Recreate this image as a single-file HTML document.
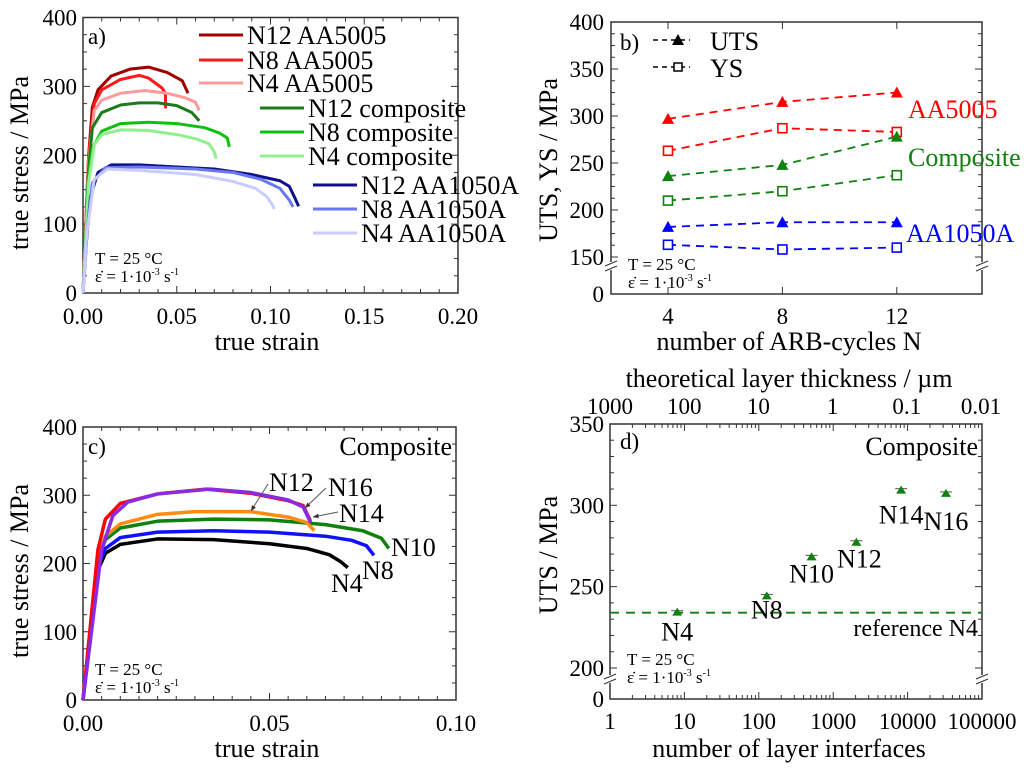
<!DOCTYPE html>
<html><head><meta charset="utf-8">
<style>
body{margin:0;background:#fff;}
svg{display:block;font-family:"Liberation Serif","Times New Roman",serif;}
svg text{font-family:"Liberation Serif","Times New Roman",serif;}
</style></head>
<body>
<svg id="fig" width="1024" height="774" viewBox="0 0 1024 774" xmlns="http://www.w3.org/2000/svg" font-family="Liberation Serif, serif"></svg>
<script>
// ---------- Panel a data ----------
const aNames = ["N12 AA5005","N8 AA5005","N4 AA5005","N12 composite","N8 composite","N4 composite","N12 AA1050A","N8 AA1050A","N4 AA1050A"];
const aColors = ["#a00000","#ff1a1a","#ff9a9a","#1c7a1c","#10c010","#90f090","#10108a","#6a78f0","#c8ccff"];
const aStrain = [
 [0,0.003,0.005,0.008,0.015,0.025,0.035,0.045,0.053,0.056],
 [0,0.003,0.006,0.01,0.02,0.03,0.035,0.042,0.044,0.044],
 [0,0.003,0.006,0.01,0.02,0.033,0.045,0.055,0.06,0.062],
 [0,0.003,0.005,0.01,0.02,0.03,0.04,0.05,0.058,0.062],
 [0,0.003,0.005,0.01,0.02,0.035,0.05,0.065,0.073,0.077,0.078],
 [0,0.003,0.006,0.01,0.02,0.035,0.05,0.06,0.067,0.07,0.071],
 [0,0.002,0.004,0.008,0.015,0.03,0.05,0.07,0.09,0.105,0.11,0.113,0.115],
 [0,0.002,0.005,0.012,0.03,0.06,0.08,0.095,0.105,0.11,0.112],
 [0,0.002,0.006,0.013,0.03,0.06,0.08,0.092,0.098,0.101,0.102]
];
const aStress = [
 [0,200,270,295,315,325,328,320,308,290],
 [0,200,275,295,310,316,312,298,290,268],
 [0,190,265,280,290,294,290,283,277,265],
 [0,180,240,262,273,276,276,272,262,250],
 [0,170,210,235,246,248,246,240,232,225,212],
 [0,160,215,230,237,236,230,224,217,205,195],
 [0,80,140,175,186,186,183,180,172,163,155,138,126],
 [0,85,160,182,183,180,175,165,152,135,125],
 [0,85,165,180,178,172,162,152,140,128,122]
];
// ---------- Panel b data ----------
const bCycles = [4,8,12];
const bUtsAA5005 = [297,315,325];
const bYsAA5005 = [263,287,283];
const bUtsComp = [236,248,278];
const bYsComp = [210,220,237];
const bUtsAA1050 = [182,187,187];
const bYsAA1050 = [163,158,160];
// ---------- Panel c data ----------
const cNames = ["N4","N8","N10","N14","N12","N16"];
const cColors = ["#000000","#1010ff","#108010","#ff8c10","#ff0000","#8a2be2"];
const cStrain = [
 [0,0.004,0.006,0.01,0.02,0.035,0.05,0.06,0.066,0.069,0.071],
 [0,0.004,0.006,0.01,0.02,0.035,0.05,0.065,0.072,0.076,0.078],
 [0,0.004,0.006,0.01,0.02,0.035,0.05,0.065,0.075,0.08,0.082],
 [0,0.004,0.006,0.01,0.02,0.03,0.045,0.055,0.06,0.062],
 [0,0.004,0.006,0.01,0.02,0.033,0.045,0.055,0.059,0.061],
 [0,0.005,0.008,0.012,0.02,0.034,0.045,0.055,0.059,0.061]
];
const cStress = [
 [0,190,215,228,236,235,229,222,213,203,194],
 [0,195,222,238,246,248,246,240,234,226,212],
 [0,205,235,252,262,265,264,257,248,237,222],
 [0,205,240,258,272,276,276,268,260,248],
 [0,220,265,288,302,309,303,292,285,262],
 [0,220,270,290,302,309,304,293,283,260]
];
// ---------- Panel d data ----------
const dLabels = ["N4","N8","N10","N12","N14","N16"];
const dInterfaces = [8,128,512,2048,8192,32768];
const dUts = [234,244,268,277,309,307];
const dReference = 234;
const dTopTicks = ["1000","100","10","1","0.1","0.01"];
const dBottomTicks = ["1","10","100","1000","10000","100000"];

const NS="http://www.w3.org/2000/svg";
const svg=document.getElementById('fig');
const FF='Liberation Serif, Times New Roman, serif';
function mk(tag,attrs,parent){const e=document.createElementNS(NS,tag);for(const k in attrs)e.setAttribute(k,attrs[k]);(parent||svg).appendChild(e);return e;}
function txt(s,x,y,size,anchor,fill,parent){const t=mk('text',{x:x,y:y,'font-size':size,'text-anchor':anchor||'start',fill:fill||'#000','font-family':FF},parent);t.textContent=s;return t;}
function group(name){const g=mk('g',{});return g;}
function cond(x,y,g){
 const t1=txt('T = 25 °C',x,y,17,'start','#000',g);
 
 
 const t2=mk('text',{x:x,y:y+18,'font-size':17,'font-family':FF},g);
 t2.innerHTML='ε̇ = 1·10<tspan dy="-7" font-size="10">-3</tspan><tspan dy="7"> s</tspan><tspan dy="-7" font-size="10">-1</tspan>';
 
 
}
function frame(g,x0,y0,x1,y1){const r=mk('rect',{x:x0,y:y0,width:x1-x0,height:y1-y0,fill:'none',stroke:'#333','stroke-width':1.5},g);}
function vtitle(g,s,x,y,size){const t=txt(s,x,y,size,'middle','#000',g);t.setAttribute('transform',`rotate(-90 ${x} ${y})`);return t;}
const TK=23, TT=26, LG=26;

// ===== Panel a =====
(function(){
 const g=group('panel-a');
 const X=v=>83+v/0.20*375, Y=v=>293-v/400*275.5;
 frame(g,83,17.5,458,293);
 for(let i=0;i<=20;i++){const x=X(i*0.01);const major=i%5==0;
  mk('line',{x1:x,x2:x,y1:293,y2:293-(major?7:4),stroke:'#333'},g);mk('line',{x1:x,x2:x,y1:17.5,y2:17.5+(major?7:4),stroke:'#333'},g);}
 for(let v=0;v<=400;v+=25){const y=Y(v);const major=v%100==0;
  mk('line',{x1:83,x2:83+(major?7:4),y1:y,y2:y,stroke:'#333'},g);mk('line',{x1:458,x2:458-(major?7:4),y1:y,y2:y,stroke:'#333'},g);}
 ["0.00","0.05","0.10","0.15","0.20"].forEach((s,i)=>{const t=txt(s,X(i*0.05),324,TK,'middle','#000',g);});
 [0,100,200,300,400].forEach(v=>{const t=txt(String(v),77,Y(v)+8,TK,'end','#000',g);});
 const xt=txt('true strain',267,350,TT,'middle','#000',g);
 const yt=vtitle(g,'true stress / MPa',28,163,TT);
 const lb=txt('a)',88,44,23,'start','#000',g);
 aNames.forEach((n,i)=>{
  const p=mk('polyline',{points:aStrain[i].map((s,j)=>X(s)+','+Y(aStress[i][j])).join(' '),fill:'none',stroke:aColors[i],'stroke-width':3,'stroke-linejoin':'round'},g);
  
  
 });
 const legPos=[[199,35],[199,60],[199,83],[260,108],[260,132],[260,156],[313,185],[313,209],[313,233]];
 aNames.forEach((n,i)=>{
  const [lx,ly]=legPos[i];
  const le=group('legend-entry');
  g.appendChild(le);
  mk('line',{x1:lx,x2:lx+44,y1:ly,y2:ly,stroke:aColors[i],'stroke-width':3},le);
  txt(n,lx+48,ly+9,LG,'start','#000',le);
 });
 cond(95,264,g);
})();

// ===== Panel b =====
(function(){
 const g=group('panel-b');
 const X=v=>668+(v-4)*28.6, Y=v=>257-(v-150)*0.94;
 frame(g,611,22,982,294);
 for(let v=150;v<=400;v+=12.5){const y=Y(v);const major=v%50==0;
  mk('line',{x1:611,x2:611+(major?7:4),y1:y,y2:y,stroke:'#333'},g);mk('line',{x1:982,x2:982-(major?7:4),y1:y,y2:y,stroke:'#333'},g);}
 bCycles.forEach(c=>{mk('line',{x1:X(c),x2:X(c),y1:294,y2:287,stroke:'#333'},g);mk('line',{x1:X(c),x2:X(c),y1:22,y2:29,stroke:'#333'},g);});
 [611,982].forEach(x=>{mk('rect',{x:x-6,y:262,width:12,height:8,fill:'#fff'},g);
  mk('line',{x1:x-6,x2:x+6,y1:266,y2:261,stroke:'#333'},g);mk('line',{x1:x-6,x2:x+6,y1:271,y2:266,stroke:'#333'},g);});
 [150,200,250,300,350,400].forEach(v=>{const t=txt(String(v),604,Y(v)+8,TK,'end','#000',g);});
 const z=txt('0',604,302,TK,'end','#000',g);
 bCycles.forEach(c=>{const t=txt(String(c),X(c),324,TK,'middle','#000',g);});
 const xt=txt('number of ARB-cycles N',789,350,TT,'middle','#000',g);
 const yt=vtitle(g,'UTS, YS / MPa',557,160,TT);
 const lb=txt('b)',620,50,23,'start','#000',g);
 const series=[[bUtsAA5005,'#ff0000','tri','uts-aa5005'],[bYsAA5005,'#ff0000','sq','ys-aa5005'],[bUtsComp,'#108010','tri','uts-composite'],[bYsComp,'#108010','sq','ys-composite'],[bUtsAA1050,'#0000ff','tri','uts-aa1050a'],[bYsAA1050,'#0000ff','sq','ys-aa1050a']];
 series.forEach(([vals,col,m,name])=>{
  const sg=group('series-'+name);g.appendChild(sg);
  mk('polyline',{points:vals.map((v,i)=>X(bCycles[i])+','+Y(v)).join(' '),fill:'none',stroke:col,'stroke-width':1.8,'stroke-dasharray':'8,6'},sg);
  vals.forEach((v,i)=>{const x=X(bCycles[i]),y=Y(v);let e;
   if(m=='tri')e=mk('polygon',{points:`${x-6},${y+5} ${x+6},${y+5} ${x},${y-6}`,fill:col},sg);
   else e=mk('rect',{x:x-4.5,y:y-4.5,width:9,height:9,fill:'#fff',stroke:col,'stroke-width':1.6},sg);
   
   });
 });
 const lg=group('legend');g.appendChild(lg);
 mk('line',{x1:653,x2:690,y1:40,y2:40,stroke:'#000','stroke-width':1.5,'stroke-dasharray':'5,4'},lg);
 mk('polygon',{points:'672,45 684,45 678,34',fill:'#000'},lg);
 txt('UTS',710,50,LG,'start','#000',lg);
 mk('line',{x1:653,x2:690,y1:67,y2:67,stroke:'#000','stroke-width':1.5,'stroke-dasharray':'5,4'},lg);
 mk('rect',{x:674,y:63,width:8,height:8,fill:'#fff',stroke:'#000','stroke-width':1.5},lg);
 txt('YS',710,77,LG,'start','#000',lg);
 const l1=txt('AA5005',908,118,LG,'start','#ff0000',g);
 const l2=txt('Composite',908,166,LG,'start','#108010',g);
 const l3=txt('AA1050A',906,242,LG,'start','#0000ff',g);
 cond(628,270,g);
})();

// ===== Panel c =====
(function(){
 const g=group('panel-c');
 const X=v=>83+v/0.10*373, Y=v=>700-v/400*273;
 frame(g,83,427,456,700);
 for(let i=0;i<=20;i++){const x=X(i*0.005);const major=i%10==0;
  mk('line',{x1:x,x2:x,y1:700,y2:700-(major?7:4),stroke:'#333'},g);mk('line',{x1:x,x2:x,y1:427,y2:427+(major?7:4),stroke:'#333'},g);}
 for(let v=0;v<=400;v+=25){const y=Y(v);const major=v%100==0;
  mk('line',{x1:83,x2:83+(major?7:4),y1:y,y2:y,stroke:'#333'},g);mk('line',{x1:456,x2:456-(major?7:4),y1:y,y2:y,stroke:'#333'},g);}
 ["0.00","0.05","0.10"].forEach((s,i)=>{const t=txt(s,X(i*0.05),731,TK,'middle','#000',g);});
 [0,100,200,300,400].forEach(v=>{const t=txt(String(v),77,Y(v)+8,TK,'end','#000',g);});
 const xt=txt('true strain',267,757,TT,'middle','#000',g);
 const yt=vtitle(g,'true stress / MPa',28,571,TT);
 const lb=txt('c)',88,454,23,'start','#000',g);
 const ct=txt('Composite',452,455,LG,'end','#000',g);
 cNames.forEach((n,i)=>{
  const p=mk('polyline',{points:cStrain[i].map((s,j)=>X(s)+','+Y(cStress[i][j])).join(' '),fill:'none',stroke:cColors[i],'stroke-width':3.5,'stroke-linejoin':'round'},g);
  
  
 });
 const labs=[['N12',269,491],['N16',328,496],['N14',339,522],['N10',391,556],['N8',362,579],['N4',331,592]];
 labs.forEach(([s,x,y])=>{const t=txt(s,x,y,LG,'start','#000',g);});
 [[268,484,251,511],[326,488,305,508],[338,512,313,517]].forEach(a=>{
  const l=mk('line',{x1:a[0],y1:a[1],x2:a[2],y2:a[3],stroke:'#555','stroke-width':1},g);
  
  const ang=Math.atan2(a[3]-a[1],a[2]-a[0]);const s=6;
  mk('polygon',{points:`${a[2]},${a[3]} ${a[2]-s*Math.cos(ang-0.4)},${a[3]-s*Math.sin(ang-0.4)} ${a[2]-s*Math.cos(ang+0.4)},${a[3]-s*Math.sin(ang+0.4)}`,fill:'#333'},g);
 });
 cond(95,675,g);
})();

// ===== Panel d =====
(function(){
 const g=group('panel-d');
 const X=v=>610+Math.log10(v)*74.4, Y=v=>668-(v-200)*1.627;
 frame(g,610,424,982,699);
 for(let d=0;d<5;d++){for(let k=1;k<10;k++){const x=X(Math.pow(10,d)*k);const L=k==1?7:4;
  mk('line',{x1:x,x2:x,y1:699,y2:699-L,stroke:'#333'},g);mk('line',{x1:x,x2:x,y1:424,y2:424+L,stroke:'#333'},g);}}
 mk('line',{x1:982,x2:982,y1:699,y2:692,stroke:'#333'},g);
 for(let v=200;v<=350;v+=10){const y=Y(v);const major=v%50==0;
  mk('line',{x1:610,x2:610+(major?7:4),y1:y,y2:y,stroke:'#333'},g);mk('line',{x1:982,x2:982-(major?7:4),y1:y,y2:y,stroke:'#333'},g);}
 [610,982].forEach(x=>{mk('rect',{x:x-6,y:675,width:12,height:8,fill:'#fff'},g);
  mk('line',{x1:x-6,x2:x+6,y1:679,y2:674,stroke:'#333'},g);mk('line',{x1:x-6,x2:x+6,y1:684,y2:679,stroke:'#333'},g);});
 [200,250,300,350].forEach(v=>{const t=txt(String(v),604,Y(v)+8,TK,'end','#000',g);});
 const z=txt('0',604,707,TK,'end','#000',g);
 dBottomTicks.forEach((s,i)=>{const t=txt(s,610+i*74.4,729,TK,'middle','#000',g);});
 dTopTicks.forEach((s,i)=>{const t=txt(s,610+i*74.2,414,TK,'middle','#000',g);});
 const xt=txt('number of layer interfaces',789,757,TT,'middle','#000',g);
 const tt=txt('theoretical layer thickness / µm',789,387,TT,'middle','#000',g);
 const yt=vtitle(g,'UTS / MPa',557,555,TT);
 const lb=txt('d)',620,449,23,'start','#000',g);
 const ct=txt('Composite',978,455,LG,'end','#000',g);
 const ref=mk('line',{x1:610,x2:982,y1:Y(dReference),y2:Y(dReference),stroke:'#108010','stroke-width':1.8,'stroke-dasharray':'9,7'},g);
 
 const rt=txt('reference N4',978,636,LG-2,'end','#000',g);
 const offs=[[0,28],[0,22],[0,25],[3,25],[0,33],[0,36]];
 dInterfaces.forEach((n,i)=>{const x=X(n),y=Y(dUts[i]);
  mk('line',{x1:x-6,x2:x+6,y1:y-2,y2:y-2,stroke:'#555','stroke-width':1},g);
  const p=mk('polygon',{points:`${x-5},${y+3} ${x+5},${y+3} ${x},${y-5}`,fill:'#108010'},g);
  
  
  const t=txt(dLabels[i],x+offs[i][0],y+offs[i][1],LG,'middle','#000',g);
  
  
 });
 cond(627,665,g);
})();
</script>
</body></html>
